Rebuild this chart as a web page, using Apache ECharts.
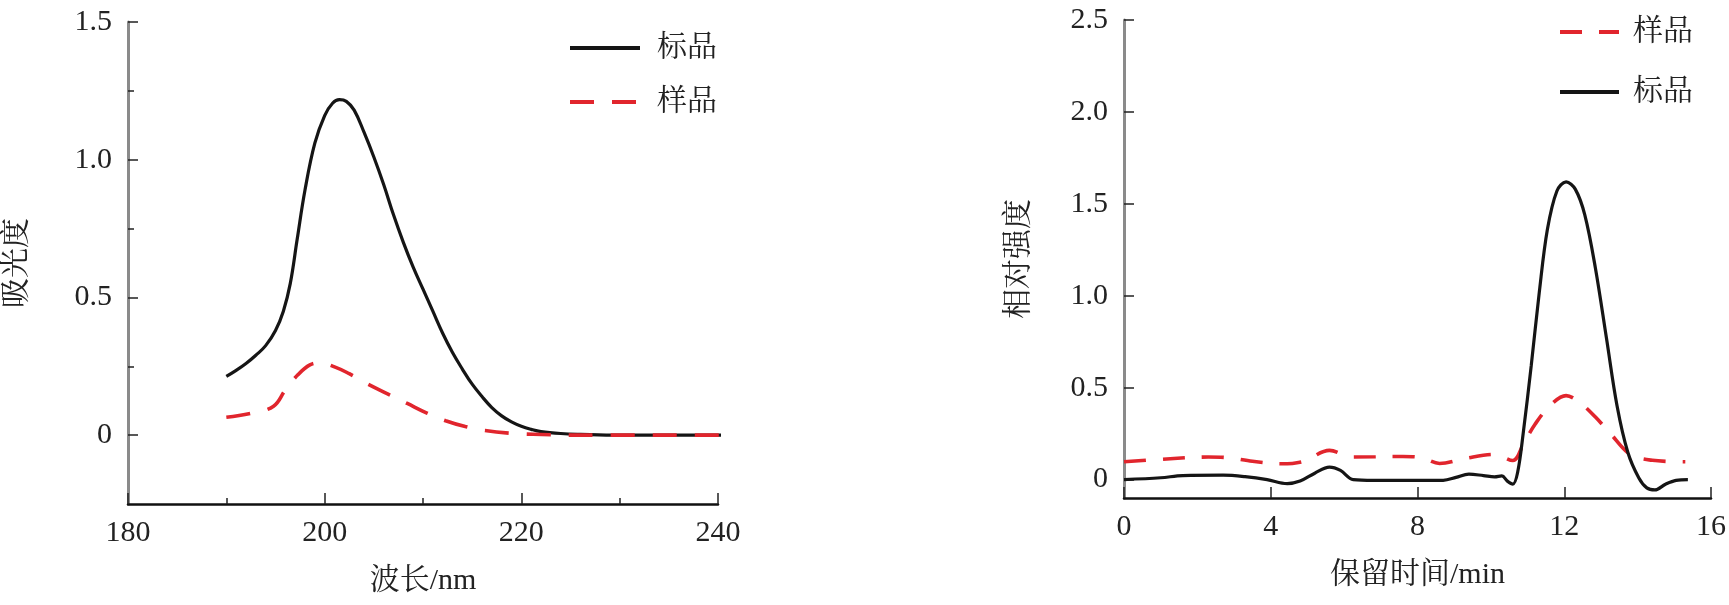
<!DOCTYPE html>
<html><head><meta charset="utf-8">
<script src="https://cdn.jsdelivr.net/npm/echarts@6/dist/echarts.min.js"></script>
<style>html,body{margin:0;padding:0;background:#fff}#c{width:1729px;height:605px}</style>
</head><body><div id="c"></div>
<script>
// Left chart: UV absorbance vs wavelength
const uvStandard = [[190,0.213],[191,0.235],[192,0.26],[193,0.29],[194,0.325],[195,0.38],[195.8,0.45],[196.5,0.55],[197.2,0.71],[198,0.89],[199,1.06],[200,1.16],[200.8,1.205],[201.5,1.218],[202.2,1.212],[203,1.18],[204,1.10],[205,1.01],[206,0.91],[207,0.80],[208,0.70],[209,0.61],[210,0.53],[211,0.45],[212,0.37],[213,0.30],[214,0.24],[215,0.185],[216,0.14],[217,0.10],[218,0.07],[219,0.048],[220,0.032],[221,0.021],[222,0.013],[224,0.006],[226,0.003],[230,0],[241,0]];
const uvSample = [[190,0.065],[192.6,0.08],[194.8,0.105],[196,0.164],[197.3,0.22],[198.5,0.255],[199.5,0.262],[201,0.248],[202.5,0.223],[204.4,0.185],[206.4,0.15],[208.4,0.115],[210.4,0.08],[212.3,0.052],[214.3,0.031],[216.3,0.017],[218.8,0.007],[221.2,0.003],[226.2,0],[241,0]];
const uvYLabels = [0, 0.5, 1.0, 1.5];
const uvYMinor = [0.25, 0.75, 1.25];
// Right chart: relative intensity vs retention time
const hplcSample = [[0,0.097],[1,0.11],[2.3,0.123],[2.8,0.12],[3.5,0.10],[4.3,0.086],[4.9,0.10],[5.6,0.159],[6.2,0.123],[7.6,0.126],[8.1,0.12],[8.6,0.088],[9.3,0.115],[10.1,0.137],[10.6,0.104],[10.9,0.20],[11.2,0.30],[11.6,0.40],[12.05,0.457],[12.45,0.415],[12.85,0.34],[13.26,0.25],[13.8,0.137],[14.4,0.105],[15.3,0.097]];
const hplcStandard = [[0,0.0],[1,0.01],[1.6,0.022],[2.7,0.024],[3.3,0.016],[3.9,0.0],[4.45,-0.022],[4.8,-0.008],[5.2,0.035],[5.6,0.068],[5.9,0.05],[6.25,0.0],[6.8,-0.004],[8,-0.004],[8.7,-0.004],[9.05,0.012],[9.4,0.03],[9.8,0.022],[10.1,0.015],[10.3,0.02],[10.45,-0.008],[10.6,-0.024],[10.73,0.04],[10.88,0.25],[11.1,0.62],[11.32,1.02],[11.54,1.36],[11.8,1.57],[12.05,1.62],[12.3,1.58],[12.56,1.44],[12.85,1.15],[13.15,0.77],[13.44,0.40],[13.73,0.15],[14.03,0.01],[14.25,-0.045],[14.47,-0.056],[14.76,-0.025],[15.05,-0.004],[15.37,0]];
const hplcYLabels = [0, 0.5, 1.0, 1.5, 2.0, 2.5];

const FONT = "'Liberation Serif', 'Noto Serif CJK SC', 'Noto Sans CJK SC', serif";
const BLACK = '#151515', RED = '#e1252d';
const txt = {color:'#222', fontFamily: FONT, fontSize: 30};
const fmt = v => v === 0 ? '0' : Number(v).toFixed(1);

function xAxisCfg(gi, min, max, interval, name, minor) {
  return {
    type:'value', gridIndex: gi, min, max, interval, name, nameLocation:'middle', nameGap: 62,
    nameTextStyle: Object.assign({}, txt),
    axisLine:{show:true, onZero:false, lineStyle:{color:'#111', width:2.5}},
    axisTick:{show:true, inside:true, length:11, lineStyle:{color:'#222', width:1.5}},
    minorTick:{show:minor, splitNumber:2, length:6, lineStyle:{color:'#222', width:1.5}},
    axisLabel:Object.assign({margin:14}, txt),
    splitLine:{show:false}
  };
}
function yAxisCfg(gi, min, max, labels, name, gap) {
  return {
    type:'value', gridIndex: gi, position:'left', min, max, name, nameLocation:'middle', nameGap: gap, nameRotate: 90,
    nameTextStyle: Object.assign({}, txt),
    axisLine:{show:true, onZero:false, lineStyle:{color:'#8a8a8a', width:3}},
    axisTick:{show:true, inside:true, length:10, customValues: labels, lineStyle:{color:'#222', width:1.5}},
    axisLabel:Object.assign({margin:16, customValues: labels, formatter: fmt}, txt),
    splitLine:{show:false}
  };
}
const legendCommon = {orient:'vertical', itemHeight:30, selectedMode:false,
  itemStyle:{opacity:0}, lineStyle:{width:4}};

const chart = echarts.init(document.getElementById('c'), null, {renderer:'canvas'});
chart.setOption({
  animation:false,
  backgroundColor:'#fff',
  grid:[
    {left:128, right:1011, top:22, bottom:101},
    {left:1124, right:13, top:20, bottom:107}
  ],
  legend:[
    Object.assign({left:563, top:28, itemWidth:70, itemGap:24, data:['标品','样品'],
      textStyle:Object.assign({padding:[0,0,0,12]}, txt)}, legendCommon),
    Object.assign({left:1553, top:12, itemWidth:59, itemGap:30, data:['样品 ','标品 '],
      textStyle:Object.assign({padding:[0,0,0,9]}, txt)}, legendCommon)
  ],
  xAxis:[
    xAxisCfg(0, 180, 240, 20, '波长/nm', true),
    xAxisCfg(1, 0, 16, 4, '保留时间/min', false)
  ],
  yAxis:[
    yAxisCfg(0, -0.25, 1.5, uvYLabels, '吸光度', 96),
    Object.assign(yAxisCfg(0, -0.25, 1.5, uvYMinor, '', 0), {axisLine:{show:false}, axisLabel:{show:false},
      axisTick:{show:true, inside:true, length:6, customValues: uvYMinor, lineStyle:{color:'#222', width:1.5}}}),
    yAxisCfg(1, -0.1, 2.5, hplcYLabels, '相对强度', 90)
  ],
  series:[
    {name:'标品', type:'line', xAxisIndex:0, yAxisIndex:0, data:uvStandard, smooth:0.4, symbol:'none', clip:false,
     lineStyle:{color:BLACK, width:3.2}, itemStyle:{color:BLACK}},
    {name:'样品', type:'line', xAxisIndex:0, yAxisIndex:0, data:uvSample, smooth:0.4, symbol:'none', clip:false,
     lineStyle:{color:RED, width:3.6, type:[24,18]}, itemStyle:{color:RED}},
    {name:'样品 ', type:'line', xAxisIndex:1, yAxisIndex:2, data:hplcSample, smooth:0.35, symbol:'none', clip:false,
     lineStyle:{color:RED, width:3.6, type:[22,17]}, itemStyle:{color:RED}},
    {name:'标品 ', type:'line', xAxisIndex:1, yAxisIndex:2, data:hplcStandard, smooth:0.35, symbol:'none', clip:false,
     lineStyle:{color:BLACK, width:3.2}, itemStyle:{color:BLACK}}
  ]
});
</script></body></html>
